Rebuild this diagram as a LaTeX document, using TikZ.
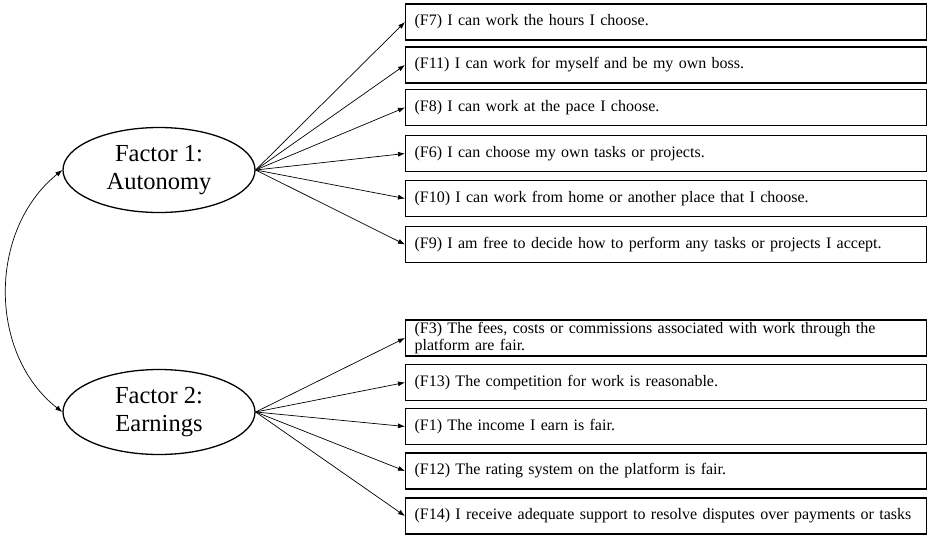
\documentclass[tikz,border=0pt]{standalone}
\usepackage{fontspec}
\setmainfont{Liberation Serif}
\usetikzlibrary{arrows.meta,shapes.geometric}

\tikzset{
  factor/.style={ellipse, draw, line width=1.3pt, minimum width=192pt,
    minimum height=85pt, inner sep=0pt, align=center,
    font=\fontsize{24.5}{28}\selectfont},
  item/.style={rectangle, draw, line width=1.2pt, anchor=west,
    minimum height=36pt, text width=503pt, inner xsep=9pt, inner ysep=1pt,
    align=left, font=\fontsize{16}{17}\selectfont},
  load/.style={line width=0.7pt, -{Latex[length=7pt,width=5pt]}},
  covar/.style={line width=0.7pt, {Latex[length=7pt,width=5pt]}-{Latex[length=7pt,width=5pt]}}
}

\begin{document}
\begin{tikzpicture}[x=1pt,y=-1pt]
\useasboundingbox (0,0) rectangle (927,536);

% latent factors
\node[factor] (auto) at (159,170) {Factor 1:\\Autonomy};
\node[factor] (earn) at (159,412) {Factor 2:\\Earnings};

% autonomy indicators
\node[item] (f7)  at (405,22)    {(F7) I can work the hours I choose.};
\node[item] (f11) at (405,65)    {(F11) I can work for myself and be my own boss.};
\node[item] (f8)  at (405,107.5) {(F8) I can work at the pace I choose.};
\node[item] (f6)  at (405,153.5) {(F6) I can choose my own tasks or projects.};
\node[item] (f10) at (405,198.5) {(F10) I can work from home or another place that I choose.};
\node[item] (f9)  at (405,244.5) {(F9) I am free to decide how to perform any tasks or projects I accept.};

% earnings indicators
\node[item] (f3)  at (405,338)   {(F3) The fees, costs or commissions associated with work through the\\platform are fair.};
\node[item] (f13) at (405,382.5) {(F13) The competition for work is reasonable.};
\node[item] (f1)  at (405,426.5) {(F1) The income I earn is fair.};
\node[item] (f12) at (405,471)   {(F12) The rating system on the platform is fair.};
\node[item] (f14) at (405,516)   {(F14) I receive adequate support to resolve disputes over payments or tasks};

% factor loadings
\foreach \t in {f7,f11,f8,f6,f10,f9}
  \draw[load] (auto.east) -- (\t.west);
\foreach \t in {f3,f13,f1,f12,f14}
  \draw[load] (earn.east) -- (\t.west);

% factor covariance
\draw[covar] (auto.west) .. controls (-12,230) and (-12,354) .. (earn.west);
\end{tikzpicture}
\end{document}
